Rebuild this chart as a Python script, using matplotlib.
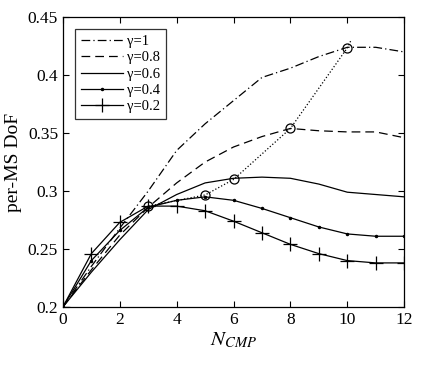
import numpy as np
import matplotlib
matplotlib.use("Agg")
import matplotlib.pyplot as plt
from matplotlib.ticker import FormatStrFormatter

plt.rcParams['font.family'] = ['Liberation Serif', 'DejaVu Serif']
plt.rcParams['mathtext.fontset'] = 'stix'

n_cmp = np.arange(13)

g10 = [0.2, 0.235, 0.268, 0.300, 0.335, 0.358, 0.378, 0.398, 0.406, 0.416, 0.424, 0.424, 0.420]
g08 = [0.2, 0.232, 0.262, 0.286, 0.307, 0.325, 0.338, 0.347, 0.354, 0.352, 0.351, 0.351, 0.346]
g06 = [0.2, 0.230, 0.258, 0.284, 0.297, 0.307, 0.311, 0.312, 0.311, 0.306, 0.299, 0.297, 0.295]
g04 = [0.2, 0.240, 0.266, 0.286, 0.292, 0.295, 0.292, 0.285, 0.277, 0.269, 0.263, 0.261, 0.261]
g02 = [0.2, 0.246, 0.273, 0.287, 0.287, 0.283, 0.274, 0.264, 0.254, 0.246, 0.240, 0.238, 0.238]

# optimum points joined by the dotted line
opt_x = [3, 5, 6, 8, 10]
opt_y = [0.287, 0.2966, 0.310, 0.354, 0.4235]
trail_x = [3, 5, 6, 8, 10, 10.13]
trail_y = [0.287, 0.2966, 0.310, 0.354, 0.4235, 0.430]

fig = plt.figure(figsize=(4.25, 3.65), dpi=100)
ax = fig.add_axes([0.148, 0.159, 0.803, 0.794])

k = dict(color='black', lw=0.9)
ax.plot(n_cmp, g10, ls=(0, (7, 2.5, 1, 2.5)), label=r'γ=1', **k)
ax.plot(n_cmp, g08, ls=(0, (7, 4)), label=r'γ=0.8', **k)
ax.plot(n_cmp, g06, ls='-', label=r'γ=0.6', **k)
ax.plot(n_cmp, g04, ls='-', marker='.', ms=3, label=r'γ=0.4', **k)
ax.plot(n_cmp, g02, ls='-', marker='+', ms=10, mew=0.9, label=r'γ=0.2', **k)
ax.plot(trail_x, trail_y, ls=':', color='black', lw=0.9)
ax.plot(opt_x, opt_y, ls='none', marker='o', ms=6.5, mfc='none', mec='black', mew=0.9)

ax.set_xlim(0, 12)
ax.set_ylim(0.2, 0.45)
ax.set_xticks(range(0, 13, 2))
ax.set_yticks([0.2, 0.25, 0.3, 0.35, 0.4, 0.45])
ax.yaxis.set_major_formatter(FormatStrFormatter('%g'))
ax.tick_params(direction='in', top=True, right=True, labelsize=12.5, length=4)
for s in ax.spines.values():
    s.set_linewidth(0.9)

ax.set_xlabel(r'$N_{CMP}$', fontsize=15, labelpad=2)
ax.set_ylabel('per-MS DoF', fontsize=14)

leg = ax.legend(loc='upper left', bbox_to_anchor=(0.035, 0.958), fontsize=10.5,
                fancybox=False, edgecolor='black', handlelength=2.9,
                handletextpad=0.3, labelspacing=0.2, borderpad=0.4,
                borderaxespad=0)
leg.get_frame().set_linewidth(0.9)

fig.savefig('out.png', dpi=100)
